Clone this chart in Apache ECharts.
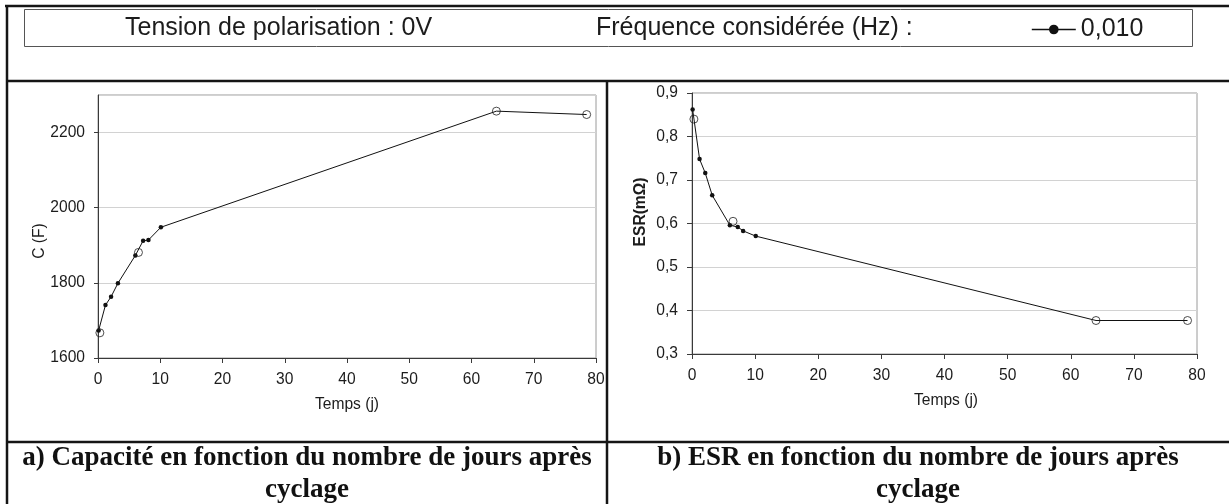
<!DOCTYPE html>
<html>
<head>
<meta charset="utf-8">
<script src="https://cdn.jsdelivr.net/npm/echarts@6/dist/echarts.min.js"></script>
<style>
  html, body { margin: 0; padding: 0; background: #fff; }
  #chart { width: 1229px; height: 504px; }
</style>
</head>
<body>
<div id="chart"></div>
<script>
// ---- data ----
const filledDays = [0.1, 1.2, 2.1, 3.2, 6.0, 7.25, 8.1, 10.1];
const capFilled  = [1673, 1741, 1763, 1799, 1873, 1912, 1914, 1948];
const esrFilled  = [0.862, 0.748, 0.716, 0.665, 0.596, 0.592, 0.583, 0.571];

const openDays   = [0.3, 6.5, 64.0, 78.5];
const capOpen    = [1667, 1881, 2257, 2248];
const esrOpen    = [0.840, 0.605, 0.377, 0.377];

const xTicks = [0, 10, 20, 30, 40, 50, 60, 70, 80];
const capTicks = [1600, 1800, 2000, 2200];
const esrTicks = [0.3, 0.4, 0.5, 0.6, 0.7, 0.8, 0.9];

const seriesName = '0,010';
const headerLeft = 'Tension de polarisation : 0V';
const headerMid = 'Fréquence considérée (Hz) :';
const captionA = ['a) Capacité en fonction du nombre de jours après', 'cyclage'];
const captionB = ['b) ESR en fonction du nombre de jours après', 'cyclage'];
const xName = 'Temps (j)';
const capName = 'C (F)';
const esrName = 'ESR(mΩ)';

// ---- helpers ----
const zip = (a, b) => a.map((v, i) => [v, b[i]]);
const lastFilled = filledDays.length - 1;
const connector = (ys, yo) => [[filledDays[lastFilled], ys[lastFilled]]]
  .concat(zip(openDays, yo).filter(p => p[0] > filledDays[lastFilled]));

const SANS = "'Liberation Sans', Arial, Helvetica, sans-serif";
const SERIF = "'Liberation Serif', 'Times New Roman', serif";
const INK = '#1c1c1c';
const AXIS = '#3a3a3a';

function xAxisCfg(gi) {
  return {
    type: 'value', gridIndex: gi, min: xTicks[0], max: xTicks[xTicks.length - 1], interval: 10,
    axisLine: { show: true, lineStyle: { color: AXIS, width: 1 } },
    axisTick: { show: true, inside: false, length: 5, lineStyle: { color: AXIS } },
    axisLabel: { color: INK, fontFamily: SANS, fontSize: 15.6, margin: 14, formatter: v => String(v) },
    splitLine: { show: false }
  };
}

const chart = echarts.init(document.getElementById('chart'), null, { renderer: 'canvas' });

const lineBase = {
  type: 'line', symbol: 'circle', symbolSize: 4.5, showSymbol: true,
  itemStyle: { color: '#111' }, lineStyle: { color: '#111', width: 1 },
  animation: false, z: 3
};
const connBase = {
  type: 'line', symbol: 'none', lineStyle: { color: '#111', width: 1 },
  animation: false, z: 3, silent: true
};
const openBase = {
  type: 'scatter', symbol: 'circle', symbolSize: 8,
  itemStyle: { color: 'rgba(255,255,255,0)', borderColor: '#222', borderWidth: 1 },
  animation: false, z: 4
};

const option = {
  backgroundColor: '#fff',
  animation: false,
  legend: {
    data: [seriesName],
    left: 1031, top: 17, padding: 0,
    itemWidth: 44, itemHeight: 12, itemGap: 7,
    lineStyle: { width: 1.6 },
    textStyle: { fontFamily: SANS, fontSize: 25, color: INK }
  },
  grid: [
    { left: 98, top: 95, width: 498, height: 263, show: true, borderColor: '#9a9a9a', borderWidth: 1, backgroundColor: '#fff' },
    { left: 692, top: 93, width: 505, height: 261, show: true, borderColor: '#9a9a9a', borderWidth: 1, backgroundColor: '#fff' }
  ],
  xAxis: [xAxisCfg(0), xAxisCfg(1)],
  yAxis: [
    {
      type: 'value', gridIndex: 0, min: capTicks[0], max: 2300, interval: 200,
      axisLine: { show: true, lineStyle: { color: AXIS, width: 1 } },
      axisTick: { show: true, length: 4, lineStyle: { color: AXIS } },
      axisLabel: { color: INK, fontFamily: SANS, fontSize: 15.6, margin: 13, showMaxLabel: false,
        formatter: v => String(Math.round(v)) },
      splitLine: { show: true, lineStyle: { color: '#d2d2d2', width: 1 } }
    },
    {
      type: 'value', gridIndex: 1, min: esrTicks[0], max: esrTicks[esrTicks.length - 1], interval: 0.1,
      axisLine: { show: true, lineStyle: { color: AXIS, width: 1 } },
      axisTick: { show: true, length: 5, lineStyle: { color: AXIS } },
      axisLabel: { color: INK, fontFamily: SANS, fontSize: 15.6, margin: 14,
        formatter: v => (Math.round(v * 10) / 10).toFixed(1).replace('.', ',') },
      splitLine: { show: true, lineStyle: { color: '#d2d2d2', width: 1 } }
    }
  ],
  series: [
    Object.assign({}, lineBase, { name: seriesName, xAxisIndex: 0, yAxisIndex: 0, data: zip(filledDays, capFilled) }),
    Object.assign({}, connBase, { name: 'cap-link', xAxisIndex: 0, yAxisIndex: 0, data: connector(capFilled, capOpen) }),
    Object.assign({}, openBase, { name: 'cap-open', xAxisIndex: 0, yAxisIndex: 0, data: zip(openDays, capOpen) }),
    Object.assign({}, lineBase, { name: seriesName, xAxisIndex: 1, yAxisIndex: 1, data: zip(filledDays, esrFilled) }),
    Object.assign({}, connBase, { name: 'esr-link', xAxisIndex: 1, yAxisIndex: 1, data: connector(esrFilled, esrOpen) }),
    Object.assign({}, openBase, { name: 'esr-open', xAxisIndex: 1, yAxisIndex: 1, data: zip(openDays, esrOpen) })
  ],
  graphic: [
    // outer frame and cell dividers
    { type: 'line', shape: { x1: 5, y1: 6, x2: 1229, y2: 6 }, style: { stroke: '#151515', lineWidth: 2.5 }, z: 10 },
    { type: 'line', shape: { x1: 7, y1: 5, x2: 7, y2: 504 }, style: { stroke: '#151515', lineWidth: 2.5 }, z: 10 },
    { type: 'line', shape: { x1: 6, y1: 81, x2: 1229, y2: 81 }, style: { stroke: '#151515', lineWidth: 2.5 }, z: 10 },
    { type: 'line', shape: { x1: 6, y1: 442, x2: 1229, y2: 442 }, style: { stroke: '#151515', lineWidth: 2.5 }, z: 10 },
    { type: 'line', shape: { x1: 607, y1: 81, x2: 607, y2: 504 }, style: { stroke: '#151515', lineWidth: 2.5 }, z: 10 },
    // header box
    { type: 'rect', shape: { x: 24.5, y: 9.5, width: 1168, height: 37 }, style: { fill: 'none', stroke: '#555', lineWidth: 1 }, z: 10 },
    { type: 'text', x: 125, y: 28, style: { text: headerLeft, font: '25px ' + SANS, fill: INK, textVerticalAlign: 'middle' }, z: 10 },
    { type: 'text', x: 596, y: 28, style: { text: headerMid, font: '25px ' + SANS, fill: INK, textVerticalAlign: 'middle' }, z: 10 },
    // axis titles
    { type: 'text', x: 347, y: 405, style: { text: xName, font: '15.6px ' + SANS, fill: INK, textAlign: 'center', textVerticalAlign: 'middle' }, z: 10 },
    { type: 'text', x: 946, y: 401, style: { text: xName, font: '15.6px ' + SANS, fill: INK, textAlign: 'center', textVerticalAlign: 'middle' }, z: 10 },
    { type: 'text', x: 40, y: 241, rotation: Math.PI / 2, style: { text: capName, font: '15.6px ' + SANS, fill: INK, textAlign: 'center', textVerticalAlign: 'middle' }, z: 10 },
    { type: 'text', x: 641, y: 212, rotation: Math.PI / 2, style: { text: esrName, font: 'bold 15.6px ' + SANS, fill: INK, textAlign: 'center', textVerticalAlign: 'middle' }, z: 10 },
    // captions
    { type: 'text', x: 307, y: 458, style: { text: captionA[0], font: 'bold 27px ' + SERIF, fill: '#111', textAlign: 'center', textVerticalAlign: 'middle' }, z: 10 },
    { type: 'text', x: 307, y: 490, style: { text: captionA[1], font: 'bold 27px ' + SERIF, fill: '#111', textAlign: 'center', textVerticalAlign: 'middle' }, z: 10 },
    { type: 'text', x: 918, y: 458, style: { text: captionB[0], font: 'bold 27px ' + SERIF, fill: '#111', textAlign: 'center', textVerticalAlign: 'middle' }, z: 10 },
    { type: 'text', x: 918, y: 490, style: { text: captionB[1], font: 'bold 27px ' + SERIF, fill: '#111', textAlign: 'center', textVerticalAlign: 'middle' }, z: 10 }
  ]
};

chart.setOption(option);
</script>
</body>
</html>
